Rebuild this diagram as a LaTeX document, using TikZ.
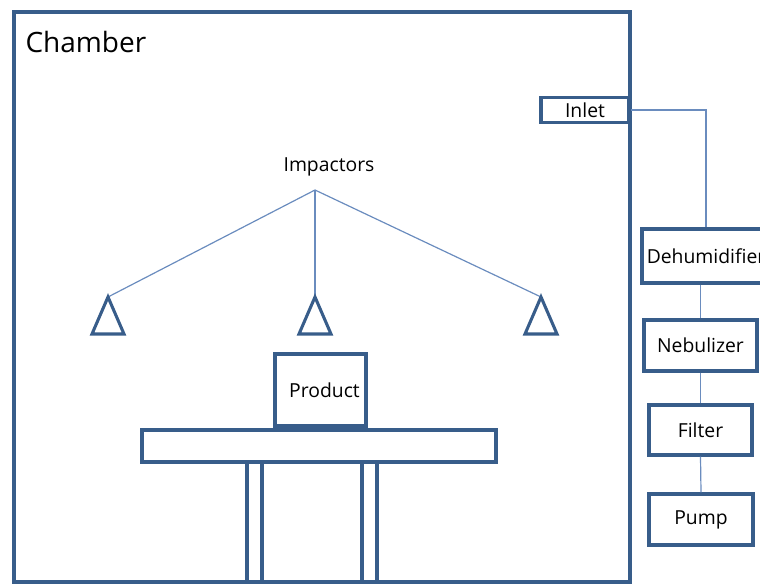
\documentclass[tikz,border=0pt]{standalone}
\usepackage{fontspec}
\setmainfont{Open Sans}
\tikzset{every picture/.style={line width=0.75pt}}
\definecolor{edgeblue}{RGB}{56,93,138}
\definecolor{pipeblue}{RGB}{106,140,190}
\tikzset{
  part/.style={draw=edgeblue, line width=2.3pt, fill=white, inner sep=0pt, font=\fontsize{14.5}{17}\selectfont},
  pipe/.style={draw=pipeblue, line width=0.9pt},
  lbl/.style={inner sep=0.75pt, font=\fontsize{14.5}{17}\selectfont}
}

\begin{document}
\begin{tikzpicture}[x=0.75pt,y=0.75pt,yscale=-1,xscale=1]
\useasboundingbox (0,0) rectangle (760,584);
\clip (0,0) rectangle (760,584);

%Shape: Rectangle [chamber]
\draw [draw=edgeblue, line width=3pt] (14,12) rectangle (630,582);
% Text Node
\draw (24,42) node [anchor=west][inner sep=0.75pt, font=\fontsize{21}{24}\selectfont] (chamber) {Chamber};

% Inlet
\node [part, minimum width=88*0.75pt, minimum height=25*0.75pt] (inlet) at (585,110) {Inlet};

% Outside train
\node [part, minimum width=128*0.75pt, minimum height=54*0.75pt] (dehum) at (706,256) {Dehumidifier};
\node [part, minimum width=113*0.75pt, minimum height=51*0.75pt] (neb) at (700.5,345.5) {Nebulizer};
\node [part, minimum width=103*0.75pt, minimum height=50*0.75pt] (filter) at (700.5,430) {Filter};
\node [part, minimum width=104*0.75pt, minimum height=51*0.75pt] (pump) at (701,519.5) {Pump};

%Straight Lines
\draw [pipe] (inlet.east) -| (dehum.north);
\draw [pipe] (neb.north |- dehum.south) -- (neb.north);
\draw [pipe] (neb.south) -- (filter.north);
\draw [pipe] (filter.south) -- (pump.north);

% Text Node
\node [lbl] (imp) at (329,167) {Impactors};
\coordinate (hub) at (315,190);
\coordinate (tl) at (108,297);
\coordinate (tm) at (315,297);
\coordinate (tr) at (541,297);
\foreach \t in {tl,tm,tr}{
  \draw [pipe] (hub) -- (\t);
  \draw [draw=edgeblue, line width=2.3pt, line join=miter] (\t) -- ++(-16,37) -- ++(32,0) -- cycle;
}

% Table and legs
\draw [draw=edgeblue, line width=2.3pt] (247,462) rectangle (262,590);
\draw [draw=edgeblue, line width=2.3pt] (362,462) rectangle (377,590);
\node [part, minimum width=354*0.75pt, minimum height=32*0.75pt] (table) at (319,446) {};
\node [part, minimum width=91*0.75pt, minimum height=72*0.75pt, text depth=0pt] (product) at (320.5,390) {\hspace*{6pt}Product};
\draw [draw=edgeblue, line width=4pt] (product.south west) -- (product.south east);

\end{tikzpicture}
\end{document}
